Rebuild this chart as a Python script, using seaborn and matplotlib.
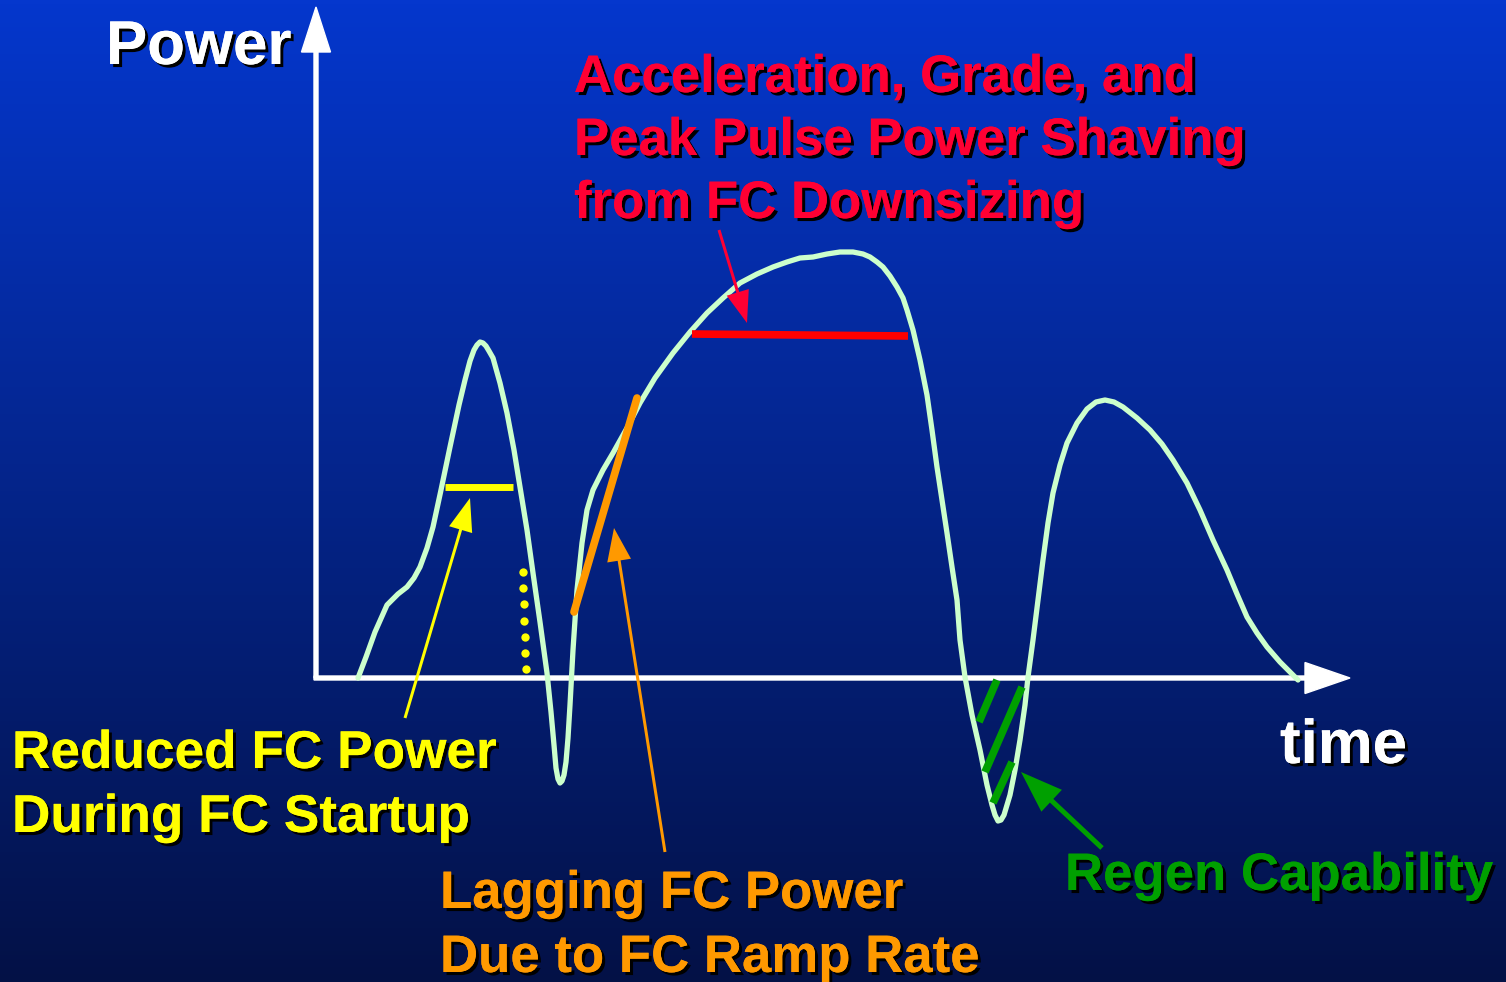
import numpy as np
import pandas as pd
import matplotlib
matplotlib.use('Agg')
import matplotlib.pyplot as plt
import matplotlib.patheffects as pe
import seaborn as sns

# Power demand curve (pixel coords, y grows downward)
curve_x = [358, 366, 375, 387, 398, 407, 414, 420, 427, 433, 441, 450, 459, 465, 470, 474, 477,
           480, 483, 486, 489, 493, 500, 507, 514, 520, 527, 533, 540, 547, 551, 554, 556, 558,
           560, 562, 564, 566, 568, 570, 573, 577, 582, 587, 593, 603, 613, 627, 640, 655, 673,
           690, 707, 723, 740, 757, 773, 787, 800, 813, 827, 840, 853, 863, 870, 877, 883, 890,
           897, 903, 907, 913, 920, 927, 932, 937, 942, 947, 952, 957, 960, 965, 972, 980, 987,
           992, 995, 998, 1001, 1004, 1010, 1015, 1020, 1025, 1028, 1033, 1038, 1043, 1048, 1053,
           1060, 1067, 1077, 1087, 1096, 1105, 1114, 1123, 1137, 1150, 1162, 1173, 1187, 1200,
           1213, 1227, 1237, 1247, 1257, 1267, 1280, 1293, 1298]
curve_y = [678, 657, 632, 605, 594, 587, 578, 567, 548, 527, 490, 447, 405, 380, 361, 350, 345,
           342, 343, 346, 351, 358, 383, 413, 450, 487, 530, 573, 622, 673, 712, 745, 768, 779,
           783, 781, 775, 762, 738, 705, 650, 590, 543, 510, 490, 470, 453, 428, 403, 378, 353,
           332, 313, 298, 283, 274, 267, 262, 258, 257, 254, 252, 252, 254, 257, 262, 267, 276,
           287, 298, 310, 330, 360, 395, 430, 467, 500, 533, 567, 600, 640, 677, 715, 750, 785,
           805, 815, 821, 820, 815, 795, 770, 740, 705, 677, 640, 600, 560, 523, 493,
           465, 443, 423, 409, 402, 400, 402, 407, 418, 430, 444, 460, 483, 510,
           540, 570, 594, 617, 633, 647, 662, 675, 680]

# annotation marks
yellow_bar_x = [445, 513]
yellow_bar_y = [487, 487]
yellow_dots_y = [572, 588, 604, 621, 637, 653, 669]
yellow_dots_x = [523, 523, 524, 524, 525, 525, 526]
orange_ramp_x = [574, 637]
orange_ramp_y = [612, 398]
red_bar_x = [692, 908]
red_bar_y = [334, 336]
green_segs = [((997, 680), (979, 722)), ((1022, 687), (985, 772)), ((1012, 762), (993, 803))]

# arrows: (tail, tip)
yellow_arrow = ((405, 718), (470, 498))
orange_arrow = ((665, 852), (614, 528))
red_arrow = ((719, 230), (747, 323))
green_arrow = ((1102, 848), (1021, 772))

# labels
red_lines = ['Acceleration, Grade, and', 'Peak Pulse Power Shaving', 'from FC Downsizing']
yellow_lines = ['Reduced FC Power', 'During FC Startup']
orange_lines = ['Lagging FC Power', 'Due to FC Ramp Rate']
green_label = 'Regen Capability'

W, H = 1506, 982
sns.set_theme(style='white')
plt.rcParams['font.family'] = ['Liberation Sans', 'DejaVu Sans']

fig = plt.figure(figsize=(W / 100, H / 100), dpi=100)
ax = fig.add_axes([0, 0, 1, 1])

# background gradient
top = np.array([5, 55, 205]) / 255
bot = np.array([3, 17, 70]) / 255
t = np.linspace(0, 1, 256)[:, None]
grad = (top[None, :] * (1 - t) + bot[None, :] * t)[:, None, :]
ax.imshow(grad, extent=[0, W, H, 0], aspect='auto', zorder=0)

# axes with arrowheads
ax.arrow(316, 678, 0, -671, width=4, head_width=29, head_length=45,
         length_includes_head=True, color='white', zorder=2)
ax.arrow(314, 678, 1036, 0, width=4, head_width=31, head_length=45,
         length_includes_head=True, color='white', zorder=2)

df = pd.DataFrame({'t': curve_x, 'p': curve_y})
sns.lineplot(data=df, x='t', y='p', sort=False, color='#CCFFCC', linewidth=3.8,
             ax=ax, zorder=3, solid_capstyle='round', solid_joinstyle='round')
ax.set_xlim(0, W)
ax.set_ylim(H, 0)
ax.axis('off')

ax.plot(yellow_bar_x, yellow_bar_y, color='#FFFF00', lw=5, zorder=4, solid_capstyle='butt')
ax.scatter(yellow_dots_x, yellow_dots_y, s=36, color='#FFFF00', zorder=4, linewidths=0)
ax.plot(orange_ramp_x, orange_ramp_y, color='#FF9900', lw=5.5, zorder=4)
ax.plot(red_bar_x, red_bar_y, color='#FF0000', lw=5.5, zorder=4, solid_capstyle='butt')
for (a, b) in green_segs:
    ax.plot([a[0], b[0]], [a[1], b[1]], color='#00A000', lw=5.5, zorder=4,
            solid_capstyle='butt')


def draw_arrow(arr, color, w, hw, hl):
    (x0, y0), (x1, y1) = arr
    ax.arrow(x0, y0, x1 - x0, y1 - y0, width=w, head_width=hw, head_length=hl,
             length_includes_head=True, color=color, zorder=5, lw=0)


draw_arrow(yellow_arrow, '#FFFF00', 3, 24, 33)
draw_arrow(orange_arrow, '#FF9900', 3, 24, 33)
draw_arrow(red_arrow, '#FF0033', 3, 23, 32)
draw_arrow(green_arrow, '#00A000', 5, 30, 42)

shadow = [pe.withSimplePatchShadow(offset=(2.2, -2.2), shadow_rgbFace='black', alpha=1.0),
          pe.Normal()]


def label(x, y, s, color, size):
    ax.text(x, y, s, color=color, fontsize=size, fontweight='bold', ha='left',
            va='baseline', path_effects=shadow, zorder=6)


label(106, 64, 'Power', 'white', 44.5)
label(1280, 763, 'time', 'white', 44.5)
for i, s in enumerate(red_lines):
    label(574, 92 + 63 * i, s, '#FF0033', 38)
for i, s in enumerate(yellow_lines):
    label(12, 768 + 64 * i, s, '#FFFF00', 38.3)
for i, s in enumerate(orange_lines):
    label(440, 908 + 64 * i, s, '#FF9900', 38)
label(1065, 890, green_label, '#00A000', 38)

fig.savefig('out.png', dpi=100)
